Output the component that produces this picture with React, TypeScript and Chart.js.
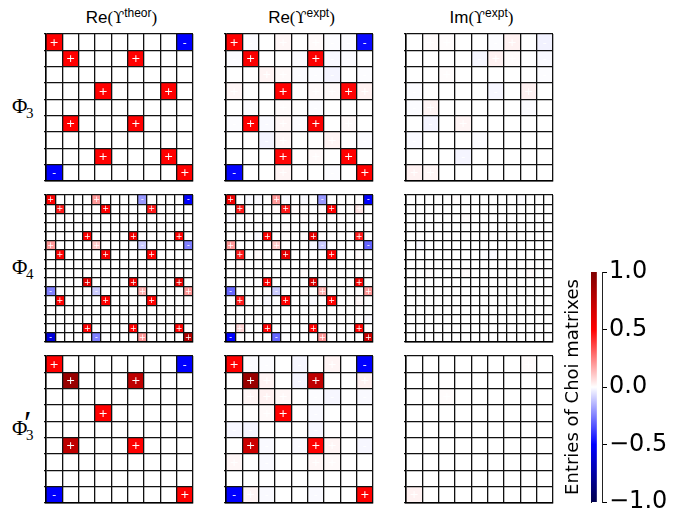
import React, { useEffect, useRef } from 'react';
import { Chart, registerables } from 'chart.js';
Chart.register(...registerables);

// ---------------- data ----------------
const phi3Theor = [
  [0.5, 0, 0, 0, 0, 0, 0, 0, -0.5],
  [0, 0.5, 0, 0, 0, 0.5, 0, 0, 0],
  [0, 0, 0, 0, 0, 0, 0, 0, 0],
  [0, 0, 0, 0.5, 0, 0, 0, 0.5, 0],
  [0, 0, 0, 0, 0, 0, 0, 0, 0],
  [0, 0.5, 0, 0, 0, 0.5, 0, 0, 0],
  [0, 0, 0, 0, 0, 0, 0, 0, 0],
  [0, 0, 0, 0.5, 0, 0, 0, 0.5, 0],
  [-0.5, 0, 0, 0, 0, 0, 0, 0, 0.5],
];
const phi3ExptRe = [
  [0.5, -0.005, 0, 0.015, 0, 0.01, -0.005, -0.005, -0.48],
  [-0.005, 0.52, 0, 0, -0.005, 0.51, -0.01, -0.005, 0],
  [0, 0, 0.02, 0.01, -0.005, -0.005, -0.02, 0, -0.005],
  [0.015, 0, 0, 0.5, 0, 0.01, 0.01, 0.49, 0.025],
  [0, -0.005, 0, 0.005, 0, -0.005, 0, 0, 0],
  [-0.005, 0.5, -0.01, 0.015, -0.005, 0.52, 0, 0.01, 0],
  [0, 0, -0.02, 0.015, 0, 0, 0.02, 0, -0.005],
  [0, 0, 0, 0.49, 0, 0.01, 0, 0.5, 0],
  [-0.49, 0, 0, 0.02, 0, 0, -0.005, 0, 0.5],
];
const phi3ExptIm = [
  [0, 0.005, 0.005, 0, 0, -0.005, 0.025, 0, -0.025],
  [0, 0, 0, 0, -0.015, 0.025, 0.005, 0, -0.01],
  [0, 0, 0.005, 0, 0, 0, 0, 0, -0.005],
  [-0.005, 0, 0, 0, 0, -0.015, 0, 0.025, 0],
  [-0.005, 0.02, 0, 0, 0, 0, 0, -0.005, 0],
  [0, -0.02, 0, 0.02, 0, 0, 0, 0, 0],
  [-0.01, 0, 0, 0, -0.005, 0, 0, 0, 0],
  [0, 0, 0, -0.02, 0, 0, 0, 0, 0],
  [0.025, 0.015, 0, 0, 0, 0, 0, 0, 0],
];

const phi4Theor = [
  [0.5, 0, 0, 0, 0, 0.2, 0, 0, 0, 0, -0.2, 0, 0, 0, 0, -0.5],
  [0, 0.45, 0, 0, 0, 0, 0.5, 0, 0, 0, 0, 0.45, 0, 0, 0, 0],
  [0, 0, 0, 0, 0, 0, 0, 0, 0, 0, 0, 0, 0, 0, 0, 0],
  [0, 0, 0, 0, 0, 0, 0, 0, 0, 0, 0, 0, 0, 0, 0, 0],
  [0, 0, 0, 0, 0.5, 0, 0, 0, 0, 0.55, 0, 0, 0, 0, 0.5, 0],
  [0.2, 0, 0, 0, 0, 0.1, 0, 0, 0, 0, -0.1, 0, 0, 0, 0, -0.25],
  [0, 0.5, 0, 0, 0, 0, 0.55, 0, 0, 0, 0, 0.5, 0, 0, 0, 0],
  [0, 0, 0, 0, 0, 0, 0, 0, 0, 0, 0, 0, 0, 0, 0, 0],
  [0, 0, 0, 0, 0, 0, 0, 0, 0, 0, 0, 0, 0, 0, 0, 0],
  [0, 0, 0, 0, 0.6, 0, 0, 0, 0, 0.55, 0, 0, 0, 0, 0.6, 0],
  [-0.25, 0, 0, 0, 0, -0.1, 0, 0, 0, 0, 0.15, 0, 0, 0, 0, 0.2],
  [0, 0.5, 0, 0, 0, 0, 0.5, 0, 0, 0, 0, 0.5, 0, 0, 0, 0],
  [0, 0, 0, 0, 0, 0, 0, 0, 0, 0, 0, 0, 0, 0, 0, 0],
  [0, 0, 0, 0, 0, 0, 0, 0, 0, 0, 0, 0, 0, 0, 0, 0],
  [0, 0, 0, 0, 0.5, 0, 0, 0, 0, 0.5, 0, 0, 0, 0, 0.5, 0],
  [-0.6, 0, 0, 0, 0, -0.25, 0, 0, 0, 0, 0.2, 0, 0, 0, 0, 0.8],
];
const phi4ExptRe = [
  [0.55, 0, -0.01, -0.01, 0, 0.2, -0.01, 0, -0.01, 0, -0.2, 0, 0, 0, 0, -0.5],
  [0, 0.45, 0, 0, 0, 0.01, 0.45, 0.01, 0.005, 0, 0.01, 0.5, 0, 0, 0.05, 0],
  [-0.01, 0, 0, 0, 0, 0, 0, 0, 0.005, 0, 0, 0, 0, 0, 0, 0],
  [0, 0, 0, 0, 0, 0, 0.005, 0, 0, 0, 0, 0, 0, 0, 0, 0],
  [0, 0, 0, -0.01, 0.5, 0, 0, 0, 0.01, 0.6, 0, 0, 0, 0, 0.45, 0],
  [0.2, 0, 0, 0, 0, 0.1, 0, 0, 0, -0.01, -0.1, 0, 0, 0, 0, -0.3],
  [0, 0.45, 0, 0.01, 0, 0, 0.6, 0, 0, 0, 0, 0.5, 0, 0, 0.01, 0],
  [0, 0.01, 0, 0, 0, 0, 0, 0, 0, 0, 0, 0, 0, 0, 0, 0],
  [0, 0, 0, 0, 0, 0, 0, 0, 0.01, 0, 0, 0, 0, 0, 0, 0],
  [0, 0, 0, 0, 0.5, 0, 0, 0, 0, 0.65, -0.01, 0, 0, 0, 0.55, 0],
  [-0.3, 0, 0, 0, 0, -0.1, 0, 0, 0.01, 0, 0.15, 0, 0, 0, 0, 0.2],
  [0, 0.45, 0, 0, -0.01, 0, 0.5, 0, 0, -0.01, 0, 0.5, 0, 0, 0.015, 0],
  [0, 0, 0, 0, 0, 0, 0, 0, 0, 0, 0, 0, 0, 0, 0, 0],
  [0, 0, 0, 0, 0, 0, 0, 0, 0, 0, 0, 0, 0, 0, 0, -0.01],
  [0, 0.08, 0, 0, 0.5, 0, 0, 0, 0, 0.5, 0, 0, 0, 0, 0.5, 0],
  [-0.5, 0, 0, 0, 0, -0.3, 0, 0, 0, 0, 0.2, 0, 0, 0, 0, 0.7],
];
const phi4ExptIm = [
  [0, 0, 0, 0, 0, 0.005, 0, 0, 0, 0, 0, 0, -0.005, 0, 0, 0],
  [0, 0, 0, 0, 0, 0, 0, 0, 0, 0, 0, 0, 0, 0, 0, 0],
  [0, 0, 0, 0, 0, 0, 0.005, 0, 0, 0, 0, 0, 0, 0, 0, 0],
  [0, 0, 0, 0, 0, 0, 0, 0, 0, 0, 0, 0, 0, 0, 0, 0],
  [0, 0, 0, 0, 0, 0, 0, 0, 0, 0, 0, 0, 0, 0, 0, 0],
  [0, -0.01, 0, 0, 0, 0, 0, 0, 0, 0, 0, 0, 0, 0, 0, 0],
  [0, 0, 0, 0, 0, 0, 0, 0, 0, -0.01, 0, 0, 0, 0, 0, 0],
  [0, 0, 0, 0, 0, 0, 0, 0, 0, 0, 0, 0, 0, 0, 0, 0],
  [0, 0, 0.005, 0, 0, 0, 0.01, 0, 0, 0, 0, 0, 0, 0.01, 0, 0],
  [0, 0, 0, 0, 0, 0, 0, 0, 0, 0, 0, 0, 0, 0, 0, 0],
  [0, 0, 0, 0, 0, 0, 0, 0, 0, 0, 0, 0, 0, 0, 0, 0],
  [0, 0, 0, 0, 0, 0, 0, 0, 0, 0, 0, 0, 0, 0, 0, 0],
  [0, 0, 0, 0, 0, 0, 0, 0, 0, 0, 0, 0, 0, 0, 0, 0],
  [0, 0, 0, 0, 0, 0, 0, 0, 0, 0, 0, 0, 0, 0, 0, 0],
  [0, 0, 0, 0, 0, 0, 0, 0, 0, 0, 0, 0, 0, 0, 0, 0],
  [0, 0, 0, 0, 0, 0, 0, 0, 0, 0, 0, 0, 0, 0, 0, 0],
];

const phi3pTheor = [
  [0.5, 0, 0, 0, 0, 0, 0, 0, -0.5],
  [0, 0.9, 0, 0, 0, 0.75, 0, 0, 0],
  [0, 0, 0, 0, 0, 0, 0, 0, 0],
  [0, 0, 0, 0.5, 0, 0, 0, 0, 0],
  [0, 0, 0, 0, 0, 0, 0, 0, 0],
  [0, 0.75, 0, 0, 0, 0.5, 0, 0, 0],
  [0, 0, 0, 0, 0, 0, 0, 0, 0],
  [0, 0, 0, 0, 0, 0, 0, 0, 0],
  [-0.5, 0, 0, 0, 0, 0, 0, 0, 0.5],
];
const phi3pExptRe = [
  [0.5, -0.005, -0.005, 0, -0.015, 0, 0.02, 0, -0.5],
  [0, 0.9, 0.02, 0, -0.02, 0.75, 0, 0, 0.025],
  [0, 0.015, 0.025, 0.015, 0, -0.005, -0.015, 0, -0.01],
  [0, 0, 0.01, 0.5, 0, -0.01, 0, 0, 0],
  [-0.015, -0.02, 0, 0, 0, -0.015, 0, 0, 0],
  [0, 0.7, -0.01, 0, -0.01, 0.5, 0.02, 0, -0.015],
  [0.015, 0, -0.01, 0, 0, 0.015, 0.01, 0, 0],
  [0, 0, 0, 0, 0, 0, 0, 0, 0],
  [-0.5, 0.02, -0.01, 0, 0, -0.01, 0, 0, 0.5],
];
const phi3pExptIm = [
  [0, 0, 0, 0, 0, 0, 0, 0.005, 0],
  [0, 0, 0, 0, 0, 0, 0, 0, 0],
  [0, 0, 0.005, 0, 0, 0, 0, 0, 0],
  [0, 0, 0, 0, 0, 0, 0, 0, 0],
  [0, 0, 0, 0, 0, 0, 0, 0, 0],
  [0, 0, 0, 0, 0, 0, 0, 0, 0],
  [0, 0, 0, 0, 0, 0, 0, 0, 0],
  [0, 0, 0, 0, 0, 0, 0, 0, 0],
  [0.025, 0, 0, 0, 0, 0, 0, 0, 0],
];

const panelRows = [
  [phi3Theor, phi3ExptRe, phi3ExptIm],
  [phi4Theor, phi4ExptRe, phi4ExptIm],
  [phi3pTheor, phi3pExptRe, phi3pExptIm],
];
const colTitles = [
  { part: 'Re', sup: 'theor' },
  { part: 'Re', sup: 'expt' },
  { part: 'Im', sup: 'expt' },
];
const rowNames = [
  { sub: '3', prime: false },
  { sub: '4', prime: false },
  { sub: '3', prime: true },
];
const colorbarRange = [-1, 1];
const colorbarTicks = [-1, -0.5, 0, 0.5, 1];
const colorbarLabel = 'Entries of Choi matrixes';

// ---------------- layout ----------------
const colLefts = [46, 226, 406];
const rowTops = [34, 195, 356];
const SIZE = 147;
const PAD = 4;

// seismic colormap
const seismicStops: [number, number, number, number][] = [
  [0, 0, 0, 0.3],
  [0.25, 0, 0, 1],
  [0.5, 1, 1, 1],
  [0.75, 1, 0, 0],
  [1, 0.5, 0, 0],
];
function seismic(v: number): string {
  const t = Math.min(1, Math.max(0, (v + 1) / 2));
  for (let k = 0; k < seismicStops.length - 1; k++) {
    const a = seismicStops[k];
    const b = seismicStops[k + 1];
    if (t <= b[0]) {
      const f = (t - a[0]) / (b[0] - a[0]);
      const r = Math.round(255 * (a[1] + f * (b[1] - a[1])));
      const g = Math.round(255 * (a[2] + f * (b[2] - a[2])));
      const bl = Math.round(255 * (a[3] + f * (b[3] - a[3])));
      return `rgb(${r},${g},${bl})`;
    }
  }
  return 'rgb(128,0,0)';
}

const signPlugin = {
  id: 'cellSigns',
  afterDatasetsDraw(chart: any, _args: any, opts: any) {
    const { ctx } = chart;
    const meta = chart.getDatasetMeta(0);
    const data = chart.data.datasets[0].data;
    ctx.save();
    ctx.fillStyle = '#ffffff';
    ctx.font = `${opts.size}px "DejaVu Sans", sans-serif`;
    ctx.textAlign = 'center';
    ctx.textBaseline = 'middle';
    meta.data.forEach((el: any, k: number) => {
      const v = data[k].v;
      ctx.fillText(v < 0 ? '-' : '+', el.x, el.y + 0.5);
    });
    ctx.restore();
  },
};

function Panel({ matrix, left, top }: { matrix: number[][]; left: number; top: number }) {
  const ref = useRef<HTMLCanvasElement>(null);
  useEffect(() => {
    const n = matrix.length;
    const points: { x: number; y: number; v: number }[] = [];
    matrix.forEach((row, i) => row.forEach((v, j) => points.push({ x: j + 0.5, y: i + 0.5, v })));
    const tickValues = Array.from({ length: n + 1 }, (_, k) => k);
    const cellRadius = (c: any) => {
      const s = c.chart.scales.x;
      return (Math.abs(s.getPixelForValue(1) - s.getPixelForValue(0)) / Math.SQRT2) * 1.02;
    };
    const gridOpts = { color: '#111', lineWidth: 1.3, z: 1 };
    const chart = new Chart(ref.current as HTMLCanvasElement, {
      type: 'scatter',
      data: {
        datasets: [
          {
            data: points as any,
            pointStyle: 'rect',
            borderWidth: 0,
            backgroundColor: (c: any) => (c.raw ? seismic(c.raw.v) : '#fff'),
            pointRadius: cellRadius,
            pointHoverRadius: cellRadius,
          },
        ],
      },
      options: {
        responsive: false,
        animation: false,
        events: [],
        layout: { padding: PAD },
        plugins: {
          legend: { display: false },
          tooltip: { enabled: false },
          cellSigns: { size: n > 10 ? 8 : 11 },
        } as any,
        scales: {
          x: {
            type: 'linear',
            min: 0,
            max: n,
            afterBuildTicks: (s: any) => {
              s.ticks = tickValues.map((v) => ({ value: v }));
            },
            ticks: { display: false },
            grid: { ...gridOpts, drawTicks: false },
            border: { display: true, color: '#000', width: 1.5, z: 2 },
            afterFit: (s: any) => {
              s.height = 0;
              s.paddingLeft = 0;
              s.paddingRight = 0;
            },
          },
          y: {
            type: 'linear',
            min: 0,
            max: n,
            reverse: true,
            afterBuildTicks: (s: any) => {
              s.ticks = tickValues.map((v) => ({ value: v }));
            },
            ticks: { display: false },
            grid: { ...gridOpts, drawTicks: true, tickLength: 2 },
            border: { display: true, color: '#000', width: 1.5, z: 2 },
            afterFit: (s: any) => {
              s.width = 0;
              s.paddingTop = 0;
              s.paddingBottom = 0;
            },
          },
        },
      } as any,
      plugins: [signPlugin as any],
    });
    return () => chart.destroy();
  }, [matrix]);
  return (
    <canvas
      ref={ref}
      width={SIZE + 2 * PAD}
      height={SIZE + 2 * PAD}
      style={{ position: 'absolute', left: left - PAD, top: top - PAD }}
    />
  );
}

function Colorbar() {
  const ref = useRef<HTMLCanvasElement>(null);
  useEffect(() => {
    const chart = new Chart(ref.current as HTMLCanvasElement, {
      type: 'bar',
      data: {
        labels: [''],
        datasets: [
          {
            data: [colorbarRange as any],
            yAxisID: 'y',
            barPercentage: 1,
            categoryPercentage: 1,
            borderWidth: 0,
            borderSkipped: false,
            backgroundColor: (c: any) => {
              const area = c.chart.chartArea;
              if (!area) return '#fff';
              const g = c.chart.ctx.createLinearGradient(0, area.bottom, 0, area.top);
              for (let k = 0; k <= 40; k++) {
                const t = k / 40;
                g.addColorStop(t, seismic(colorbarRange[0] + t * (colorbarRange[1] - colorbarRange[0])));
              }
              return g;
            },
          },
        ],
      },
      options: {
        responsive: false,
        animation: false,
        events: [],
        layout: { padding: { top: 22, bottom: 11, left: 0, right: 0 } },
        plugins: { legend: { display: false }, tooltip: { enabled: false } },
        scales: {
          x: { display: false, offset: false },
          y: {
            position: 'right',
            min: colorbarRange[0],
            max: colorbarRange[1],
            afterBuildTicks: (s: any) => {
              s.ticks = colorbarTicks.map((v) => ({ value: v }));
            },
            ticks: {
              color: '#000',
              padding: 2,
              font: { family: '"DejaVu Sans", sans-serif', size: 24 },
              callback: (v: any) => {
                const num = Number(v);
                const s = Math.abs(num).toFixed(1);
                return num < 0 ? '\u2212' + s : s;
              },
            },
            grid: { drawOnChartArea: false, drawTicks: true, tickLength: 5, color: '#000', lineWidth: 1 },
            border: { display: true, color: '#222', width: 1 },
            afterFit: (s: any) => {
              s.width = 85;
              s.paddingTop = 0;
              s.paddingBottom = 0;
            },
          },
          yl: {
            position: 'left',
            min: colorbarRange[0],
            max: colorbarRange[1],
            ticks: { display: false },
            grid: { display: false, drawTicks: false },
            border: { display: true, color: '#222', width: 1 },
            title: {
              display: true,
              text: colorbarLabel,
              color: '#000',
              font: { family: '"DejaVu Sans", sans-serif', size: 18 },
              padding: { top: 23, bottom: 0 },
            },
            afterFit: (s: any) => {
              s.width = 51;
              s.paddingTop = 0;
              s.paddingBottom = 0;
            },
          },
        },
      } as any,
    });
    return () => chart.destroy();
  }, []);
  return <canvas ref={ref} width={147} height={263} style={{ position: 'absolute', left: 540, top: 250 }} />;
}

const sansFont = '"Liberation Sans", Arial, sans-serif';
const serifFont = '"Liberation Serif", "DejaVu Serif", serif';

export default function App() {
  return (
    <div
      style={{
        position: 'fixed',
        left: 0,
        top: 0,
        width: 687,
        height: 513,
        overflow: 'hidden',
        background: '#fff',
      }}
    >
      {colTitles.map((t, c) => (
        <div
          key={'t' + c}
          style={{
            position: 'absolute',
            left: colLefts[c] + SIZE / 2 - 100 + 2,
            width: 200,
            top: 6,
            height: 24,
            lineHeight: '24px',
            textAlign: 'center',
            fontFamily: sansFont,
            fontSize: 17,
            whiteSpace: 'nowrap',
            color: '#000',
          }}
        >
          {t.part}
          <span style={{ fontFamily: serifFont }}>(</span>
          <span style={{ fontFamily: '"DejaVu Serif", serif', fontSize: 16 }}>ϒ</span>
          <span style={{ fontSize: 12, position: 'relative', top: -6 }}>{t.sup}</span>
          <span style={{ fontFamily: serifFont }}>)</span>
        </div>
      ))}
      {rowNames.map((r, i) => {
        const cy = rowTops[i] + SIZE / 2;
        return (
          <div key={'r' + i} style={{ position: 'absolute', left: 0, top: cy - 20, width: 40, height: 40, fontFamily: serifFont, color: '#000' }}>
            <span style={{ position: 'absolute', left: 12, top: 6, fontSize: 21, lineHeight: '24px' }}>Φ</span>
            {r.prime && (
              <span
                style={{
                  position: 'absolute',
                  left: 24,
                  top: -4,
                  fontSize: 34,
                  lineHeight: '34px',
                  fontFamily: '"Liberation Serif", serif',
                }}
              >
                ′
              </span>
            )}
            <span style={{ position: 'absolute', left: 26, top: 16, fontSize: 15, lineHeight: '18px' }}>{r.sub}</span>
          </div>
        );
      })}
      {panelRows.map((row, i) =>
        row.map((m, j) => <Panel key={i + '-' + j} matrix={m} left={colLefts[j]} top={rowTops[i]} />)
      )}
      <Colorbar />
    </div>
  );
}
